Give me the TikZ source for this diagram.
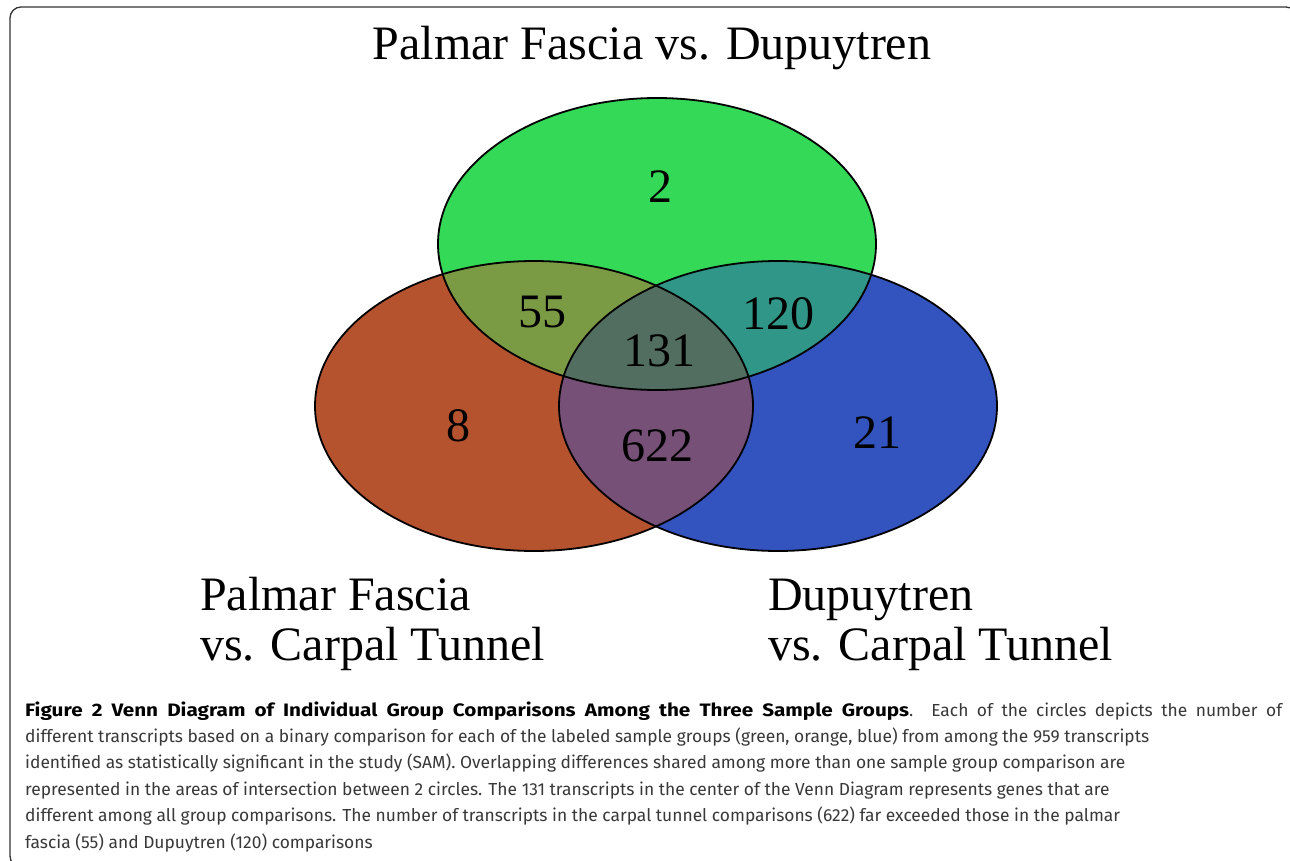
\documentclass[tikz,border=0pt]{standalone}
\usepackage{fontspec}
\setmainfont{Liberation Serif}
\newfontfamily\capfont[BoldFeatures={FakeStretch=1.15}]{Fira Sans}
\usepackage{xcolor}
\usepackage{tikz}
\usetikzlibrary{positioning}

\definecolor{pfdgreen}{HTML}{33D957}
\definecolor{pfcorange}{HTML}{B5532F}
\definecolor{dctblue}{HTML}{3353BE}
\definecolor{gomix}{HTML}{7A9A44}
\definecolor{gbmix}{HTML}{309687}
\definecolor{obmix}{HTML}{765077}
\definecolor{allmix}{HTML}{516E60}

% ellipse paths of the three comparisons
\newcommand{\pfdpath}{(657,244) ellipse [x radius=219, y radius=146]}
\newcommand{\pfcpath}{(534,406) ellipse [x radius=219, y radius=145]}
\newcommand{\dctpath}{(778,406) ellipse [x radius=219, y radius=145]}

\begin{document}
\begin{tikzpicture}[
    x=1pt, y=-1pt,
    outline/.style={draw=black, line width=1.8pt},
    count/.style={font=\fontsize{48}{50}\selectfont, inner sep=0pt},
    grouplabel/.style={font=\fontsize{48}{50}\selectfont, inner sep=0pt, anchor=base west},
    frame/.style={draw=black!80, line width=1.3pt, rounded corners=11pt}
]
\useasboundingbox (0,0) rectangle (1290,861);

% outer frame
\draw[frame] (10,7) rectangle (1297,867);

% title
\node[count, anchor=base] (title) at (652,60) {Palmar Fascia vs. Dupuytren};

% filled circles
\fill[pfdgreen] \pfdpath;
\fill[pfcorange] \pfcpath;
\fill[dctblue] \dctpath;

% pairwise overlaps
\begin{scope}
  \clip \pfdpath;
  \fill[gomix] \pfcpath;
  \fill[gbmix] \dctpath;
\end{scope}
\begin{scope}
  \clip \pfcpath;
  \fill[obmix] \dctpath;
  \clip \dctpath;
  \fill[allmix] \pfdpath;
\end{scope}

% outlines
\draw[outline] \pfdpath;
\draw[outline] \pfcpath;
\draw[outline] \dctpath;

% counts
\node[count] (only-pfd) at (660,187) {2};
\node[count] (pfd-pfc) at (542,312) {55};
\node[count] (pfd-dct) at (778,314) {120};
\node[count] (all) at (659,351) {131};
\node[count] (only-pfc) at (458,426) {8};
\node[count] (pfc-dct) at (657,446) {622};
\node[count] (only-dct) at (877,433) {21};

% group labels
\node[grouplabel] (pfc1) at (200,610) {Palmar Fascia};
\node[grouplabel] (pfc2) at (200,660) {vs. Carpal Tunnel};
\node[grouplabel] (dct1) at (768,610) {Dupuytren};
\node[grouplabel] (dct2) at (768,660) {vs. Carpal Tunnel};

% caption (base anchor sits on the last line)
\node[anchor=base west, inner sep=0pt, align=left, text=black!78,
      font=\capfont\fontsize{17.4}{26.4}\selectfont] (caption) at (25,848)
  {\makebox[1257pt][s]{\textcolor{black}{\fontsize{18}{26.4}\selectfont\bfseries Figure 2 Venn Diagram of Individual Group Comparisons Among the Three Sample Groups}. Each of the circles depicts the number of}\\
   different transcripts based on a binary comparison for each of the labeled sample groups (green, orange, blue) from among the 959 transcripts\\
   identified as statistically significant in the study (SAM). Overlapping differences shared among more than one sample group comparison are\\
   represented in the areas of intersection between 2 circles. The 131 transcripts in the center of the Venn Diagram represents genes that are\\
   different among all group comparisons. The number of transcripts in the carpal tunnel comparisons (622) far exceeded those in the palmar\\
   fascia (55) and Dupuytren (120) comparisons};
\end{tikzpicture}
\end{document}
